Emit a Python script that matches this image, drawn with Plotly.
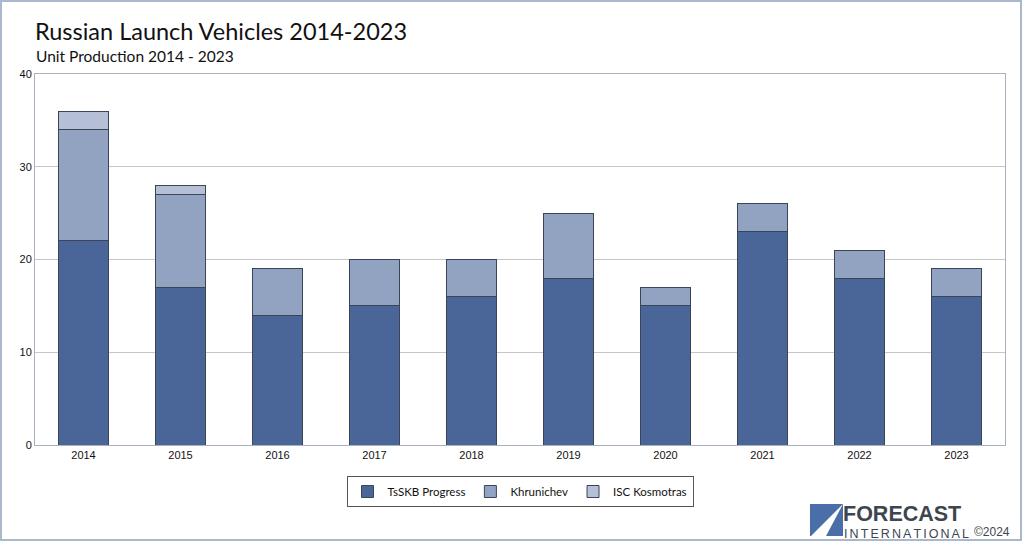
import plotly.graph_objects as go

years = ["2014", "2015", "2016", "2017", "2018", "2019", "2020", "2021", "2022", "2023"]
tsskb = [22, 17, 14, 15, 16, 18, 15, 23, 18, 16]
khrunichev = [12, 10, 5, 5, 4, 7, 2, 3, 3, 3]
isc = [2, 1, 0, 0, 0, 0, 0, 0, 0, 0]

series = [
    ("TsSKB Progress", tsskb, "#4a6699"),
    ("Khrunichev", khrunichev, "#91a3c1"),
    ("ISC Kosmotras", isc, "#b5c0d6"),
]

fig = go.Figure()
for name, vals, col in series:
    fig.add_trace(go.Bar(
        x=years, y=vals, name=name,
        marker=dict(color=col, line=dict(color="#3a4556", width=1)),
    ))

W, H = 970, 371
def px(x):
    return (x - 35) / W
def py(y):
    return (445 - y) / H

fig.update_layout(
    width=1022, height=541,
    barmode="stack", bargap=0.485,
    paper_bgcolor="white", plot_bgcolor="white",
    margin=dict(l=35, r=17, t=74, b=96),
    font=dict(family="Liberation Sans, Arial", size=12, color="#222"),
    showlegend=True,
    legend=dict(orientation="h", x=0.5, xanchor="center", y=py(476), yanchor="top",
                bordercolor="#555", borderwidth=1, bgcolor="white",
                font=dict(family="Lato", size=11.5, color="#111"),
                itemwidth=30, tracegroupgap=0,
                traceorder="normal"),
    xaxis=dict(showline=True, linecolor="#a7b1c0", mirror=True, ticks="",
               tickfont=dict(size=11, color="#111")),
    yaxis=dict(range=[0, 40], dtick=10, showgrid=True, gridcolor="#c6c6c6",
               showline=True, linecolor="#a7b1c0", mirror=True, zeroline=False,
               tickfont=dict(size=11, color="#111")),
    shapes=[
        dict(type="rect", xref="paper", yref="paper", x0=px(1), x1=px(1021),
             y0=py(540), y1=py(1), line=dict(color="#a9b8cc", width=2),
             fillcolor="rgba(0,0,0,0)", layer="below"),
        # logo
        dict(type="path", xref="paper", yref="paper",
             path="M %f %f L %f %f L %f %f L %f %f Z" % (
                 px(810), py(504), px(843), py(504),
                 px(843), py(536), px(810), py(536)),
             fillcolor="#4a6fa8", line=dict(width=0)),
        dict(type="path", xref="paper", yref="paper",
             path="M %f %f L %f %f L %f %f Z" % (
                 px(811), py(536), px(843), py(504),
                 px(826), py(536)),
             fillcolor="white", line=dict(width=0)),
    ],
    annotations=[
        dict(text="Russian Launch Vehicles 2014-2023", xref="paper", yref="paper",
             x=px(33), y=py(31), xanchor="left", yanchor="middle",
             showarrow=False, font=dict(family="Lato", size=23.5, color="#111")),
        dict(text="Unit Production 2014 - 2023", xref="paper", yref="paper",
             x=px(34), y=py(56), xanchor="left", yanchor="middle",
             showarrow=False, font=dict(family="Lato", size=15.5, color="#111")),
        dict(text="<b>FORECAST</b>", xref="paper", yref="paper",
             x=px(842), y=py(527), xanchor="left", yanchor="bottom", borderpad=0,
             showarrow=False, font=dict(family="Liberation Sans", size=21.5, color="#3d4650")),
        dict(text="\u2006".join("INTERNATIONAL"), xref="paper", yref="paper",
             x=px(843), y=py(526), xanchor="left", yanchor="top", borderpad=0,
             showarrow=False, font=dict(family="Liberation Sans", size=12.5, color="#3d4650")),
        dict(text="©2024", xref="paper", yref="paper",
             x=px(972), y=py(531.5), xanchor="left", yanchor="middle",
             showarrow=False, font=dict(family="Liberation Sans", size=12, color="#3d4650")),
    ],
)

fig.write_html("out.html", config={"displayModeBar": False},
               post_script="document.body.style.margin='0';document.body.style.overflow='hidden';")
